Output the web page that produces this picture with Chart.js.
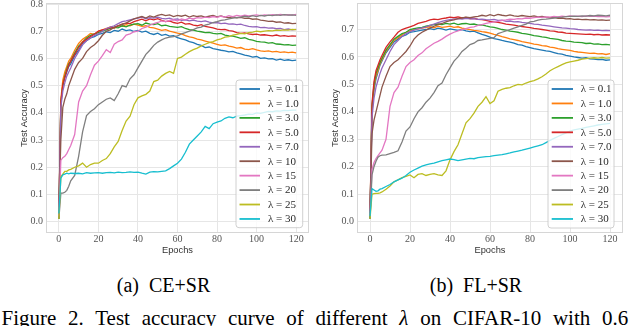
<!DOCTYPE html>
<html><head><meta charset="utf-8">
<script src="https://cdn.jsdelivr.net/npm/chart.js@4.4.1/dist/chart.umd.min.js"></script>
<style>
html,body{margin:0;padding:0;background:#fff;}
#wrap{position:relative;width:640px;height:326px;overflow:hidden;background:#fff;}
canvas{position:absolute;top:0;}
#c1{left:0;} #c2{left:320px;}
.sub{position:absolute;top:273px;font:20px "Liberation Serif",serif;line-height:24px;white-space:pre;color:#000;transform:translateX(-50%);}
#cap{position:absolute;left:1.5px;top:305.6px;font:21px "Liberation Serif",serif;line-height:24px;white-space:nowrap;word-spacing:6.5px;color:#000;}
#probe{position:absolute;left:0;top:0;font:10px "Liberation Serif";color:transparent;}
</style></head><body>
<div id="wrap">
<span id="probe">0.1 λ = 30</span>
<canvas id="c1" width="320" height="256"></canvas>
<canvas id="c2" width="320" height="256"></canvas>
<div class="sub" style="left:163.5px">(a)  CE+SR</div>
<div class="sub" style="left:476px">(b)  FL+SR</div>
<div id="cap">Figure 2. Test accuracy curve of different <i>λ</i> on CIFAR-10 with 0.6</div>
</div>
<script>
const epochs = [0,1,2,3,4,5,6,
  8,10,12,14,16,18,20,22,
  24,26,28,30,32,34,36,38,
  40,42,44,46,48,50,52,54,
  56,58,60,62,64,66,68,70,
  72,74,76,78,80,82,84,86,
  88,90,92,94,96,98,100,102,
  104,106,108,110,112,114,116,118,120];
const lambdas = ['0.1','1.0','3.0','5.0','7.0','10','15','20','25','30'];
const colors = ['#1f77b4','#ff7f0e','#2ca02c','#d62728','#9467bd','#8c564b','#e377c2','#7f7f7f','#bcbd22','#17becf'];
const xTicks = [0,20,40,60,80,100,120];
const yTicks = [0.0,0.1,0.2,0.3,0.4,0.5,0.6,0.7,0.8];

// ---- (a) CE+SR ----
const ce_l0_1 = [0.01,0.44,0.50,0.53,0.55,0.57,0.58,
 0.61,0.63,0.655,0.665,0.675,0.68,0.688,0.692,
 0.698,0.695,0.703,0.700,0.708,0.702,0.705,0.699,
 0.703,0.697,0.700,0.692,0.688,0.693,0.685,0.688,
 0.682,0.684,0.676,0.672,0.668,0.662,0.658,0.652,
 0.648,0.640,0.642,0.636,0.633,0.630,0.628,0.624,
 0.626,0.620,0.617,0.612,0.609,0.605,0.607,0.600,
 0.602,0.598,0.599,0.594,0.597,0.593,0.595,0.592,0.594];
const ce_l1_0 = [0.02,0.45,0.52,0.55,0.57,0.59,0.60,
 0.63,0.655,0.67,0.68,0.692,0.688,0.70,0.705,
 0.71,0.716,0.712,0.72,0.718,0.724,0.72,0.726,
 0.722,0.718,0.72,0.714,0.712,0.708,0.703,0.706,
 0.70,0.697,0.693,0.690,0.684,0.679,0.676,0.671,
 0.668,0.664,0.660,0.656,0.652,0.648,0.650,0.645,
 0.642,0.638,0.640,0.634,0.632,0.636,0.631,0.628,
 0.626,0.628,0.624,0.626,0.622,0.624,0.621,0.623,0.620];
const ce_l3_0 = [0.01,0.43,0.50,0.535,0.56,0.58,0.59,
 0.62,0.645,0.66,0.675,0.685,0.69,0.695,0.70,
 0.705,0.71,0.714,0.712,0.72,0.716,0.722,0.726,
 0.728,0.722,0.73,0.726,0.724,0.728,0.72,0.722,
 0.718,0.716,0.714,0.717,0.71,0.706,0.704,0.70,
 0.698,0.695,0.696,0.692,0.690,0.692,0.686,0.683,
 0.682,0.678,0.674,0.676,0.670,0.667,0.663,0.661,
 0.660,0.656,0.658,0.653,0.652,0.650,0.651,0.648,0.649];
const ce_l5_0 = [0.02,0.44,0.505,0.53,0.555,0.575,0.59,
 0.615,0.64,0.66,0.67,0.68,0.69,0.70,0.705,
 0.708,0.714,0.712,0.72,0.726,0.73,0.728,0.735,
 0.74,0.744,0.738,0.745,0.742,0.746,0.74,0.735,
 0.738,0.732,0.729,0.733,0.726,0.728,0.722,0.72,
 0.724,0.718,0.715,0.712,0.708,0.706,0.707,0.702,
 0.70,0.695,0.692,0.694,0.690,0.688,0.689,0.686,
 0.687,0.685,0.683,0.686,0.682,0.684,0.681,0.683,0.682];
const ce_l7_0 = [0.02,0.42,0.48,0.51,0.535,0.55,0.565,
 0.60,0.625,0.65,0.665,0.675,0.685,0.69,0.70,
 0.71,0.715,0.72,0.728,0.735,0.738,0.742,0.745,
 0.748,0.752,0.746,0.750,0.748,0.752,0.747,0.745,
 0.748,0.743,0.745,0.740,0.742,0.738,0.741,0.737,
 0.735,0.738,0.733,0.731,0.732,0.728,0.730,0.726,
 0.727,0.724,0.726,0.721,0.718,0.716,0.717,0.713,
 0.714,0.711,0.712,0.709,0.710,0.706,0.708,0.705,0.707];
const ce_l10 = [0.03,0.30,0.42,0.45,0.47,0.50,0.52,
 0.56,0.585,0.60,0.625,0.64,0.65,0.665,0.685,
 0.70,0.705,0.715,0.72,0.725,0.73,0.738,0.745,
 0.75,0.754,0.748,0.756,0.752,0.758,0.762,0.757,
 0.760,0.754,0.758,0.755,0.759,0.752,0.757,0.754,
 0.756,0.752,0.755,0.758,0.753,0.756,0.752,0.750,
 0.753,0.749,0.751,0.747,0.748,0.744,0.745,0.741,
 0.739,0.736,0.737,0.733,0.734,0.730,0.731,0.728,0.729];
const ce_l15 = [0.02,0.225,0.235,0.24,0.25,0.265,0.28,
 0.32,0.44,0.48,0.50,0.54,0.575,0.59,0.61,
 0.632,0.622,0.652,0.662,0.668,0.686,0.69,0.698,
 0.70,0.71,0.715,0.722,0.728,0.732,0.738,0.735,
 0.74,0.742,0.738,0.745,0.742,0.748,0.745,0.75,
 0.748,0.752,0.75,0.754,0.751,0.755,0.752,0.757,
 0.754,0.758,0.755,0.759,0.756,0.758,0.76,0.757,
 0.76,0.758,0.761,0.759,0.762,0.76,0.761,0.759,0.762];
const ce_l20 = [0.01,0.105,0.105,0.108,0.115,0.13,0.15,
 0.17,0.24,0.33,0.39,0.405,0.415,0.43,0.44,
 0.45,0.455,0.445,0.47,0.50,0.495,0.525,0.54,
 0.565,0.59,0.615,0.63,0.648,0.66,0.668,0.675,
 0.678,0.68,0.683,0.69,0.695,0.70,0.706,0.712,
 0.715,0.722,0.726,0.732,0.735,0.74,0.742,0.745,
 0.748,0.75,0.752,0.755,0.753,0.757,0.754,0.758,
 0.756,0.759,0.757,0.76,0.758,0.761,0.759,0.76,0.758];
const ce_l25 = [0.01,0.165,0.175,0.185,0.185,0.19,0.192,
 0.20,0.205,0.215,0.20,0.21,0.215,0.215,0.225,
 0.232,0.25,0.275,0.295,0.335,0.37,0.388,0.43,
 0.455,0.462,0.468,0.48,0.515,0.52,0.535,0.545,
 0.552,0.545,0.60,0.605,0.615,0.625,0.632,0.638,
 0.646,0.652,0.658,0.662,0.668,0.672,0.678,0.68,
 0.686,0.688,0.692,0.69,0.695,0.697,0.70,0.698,
 0.70,0.702,0.701,0.704,0.703,0.705,0.704,0.707,0.706];
const ce_l30 = [0.03,0.16,0.172,0.175,0.178,0.176,0.178,
 0.177,0.178,0.176,0.18,0.178,0.179,0.18,0.178,
 0.18,0.181,0.179,0.182,0.18,0.181,0.183,0.181,
 0.182,0.178,0.175,0.182,0.184,0.183,0.185,0.187,
 0.195,0.205,0.215,0.23,0.255,0.285,0.30,0.315,
 0.33,0.35,0.342,0.36,0.366,0.37,0.38,0.385,
 0.382,0.388,0.39,0.392,0.395,0.394,0.40,0.398,
 0.402,0.405,0.404,0.407,0.406,0.409,0.408,0.41,0.41];

// ---- (b) FL+SR ----
const fl_l0_1 = [0.01,0.40,0.48,0.52,0.545,0.57,0.585,
 0.615,0.635,0.655,0.665,0.675,0.68,0.69,0.692,
 0.695,0.698,0.70,0.703,0.70,0.705,0.702,0.698,
 0.702,0.70,0.697,0.70,0.695,0.692,0.694,0.688,
 0.682,0.678,0.672,0.667,0.664,0.66,0.657,0.654,
 0.65,0.645,0.643,0.638,0.634,0.63,0.628,0.625,
 0.622,0.62,0.616,0.612,0.61,0.606,0.603,0.60,
 0.598,0.596,0.597,0.593,0.592,0.59,0.591,0.588,0.589];
const fl_l1_0 = [0.02,0.41,0.49,0.53,0.55,0.575,0.59,
 0.62,0.64,0.66,0.67,0.68,0.69,0.695,0.70,
 0.702,0.705,0.708,0.71,0.706,0.712,0.708,0.71,
 0.712,0.708,0.71,0.705,0.702,0.70,0.697,0.695,
 0.692,0.69,0.687,0.682,0.679,0.674,0.67,0.666,
 0.663,0.66,0.656,0.653,0.65,0.647,0.645,0.641,
 0.64,0.636,0.634,0.63,0.628,0.626,0.624,0.62,
 0.618,0.617,0.615,0.613,0.614,0.611,0.612,0.609,0.612];
const fl_l3_0 = [0.01,0.42,0.50,0.54,0.56,0.58,0.595,
 0.625,0.645,0.665,0.675,0.685,0.69,0.70,0.703,
 0.706,0.708,0.712,0.715,0.718,0.72,0.718,0.722,
 0.72,0.723,0.718,0.721,0.722,0.719,0.72,0.716,
 0.717,0.713,0.71,0.708,0.704,0.70,0.698,0.694,
 0.692,0.69,0.686,0.684,0.681,0.678,0.676,0.673,
 0.671,0.668,0.666,0.664,0.66,0.658,0.657,0.654,
 0.653,0.652,0.649,0.65,0.647,0.648,0.645,0.646,0.644];
const fl_l5_0 = [0.02,0.43,0.51,0.55,0.57,0.59,0.605,
 0.635,0.655,0.672,0.69,0.70,0.705,0.71,0.715,
 0.722,0.726,0.73,0.735,0.738,0.736,0.74,0.742,
 0.745,0.743,0.746,0.742,0.744,0.74,0.741,0.737,
 0.736,0.733,0.73,0.728,0.726,0.723,0.72,0.718,
 0.716,0.713,0.711,0.709,0.707,0.704,0.702,0.70,
 0.698,0.695,0.694,0.691,0.69,0.687,0.686,0.685,
 0.684,0.683,0.682,0.683,0.681,0.682,0.68,0.681,0.68];
const fl_l7_0 = [0.02,0.38,0.45,0.49,0.515,0.54,0.56,
 0.59,0.62,0.645,0.66,0.675,0.685,0.692,0.698,
 0.702,0.706,0.71,0.715,0.72,0.725,0.73,0.733,
 0.736,0.738,0.74,0.738,0.741,0.739,0.74,0.737,
 0.738,0.736,0.735,0.737,0.733,0.734,0.73,0.731,
 0.728,0.729,0.726,0.724,0.722,0.72,0.719,0.716,
 0.714,0.712,0.71,0.708,0.706,0.705,0.703,0.702,
 0.70,0.699,0.698,0.699,0.697,0.698,0.696,0.697,0.696];
const fl_l10 = [0.03,0.32,0.37,0.40,0.43,0.46,0.49,
 0.53,0.565,0.58,0.59,0.605,0.62,0.64,0.665,
 0.68,0.69,0.698,0.705,0.712,0.718,0.722,0.728,
 0.732,0.735,0.74,0.742,0.745,0.743,0.746,0.748,
 0.752,0.749,0.754,0.75,0.755,0.752,0.75,0.753,
 0.75,0.748,0.751,0.749,0.747,0.75,0.746,0.748,
 0.745,0.743,0.744,0.741,0.742,0.739,0.74,0.737,
 0.738,0.736,0.737,0.735,0.736,0.734,0.735,0.733,0.734];
const fl_l15 = [0.02,0.19,0.215,0.23,0.24,0.25,0.26,
 0.30,0.42,0.47,0.49,0.53,0.565,0.58,0.59,
 0.605,0.615,0.63,0.64,0.65,0.657,0.665,0.675,
 0.683,0.69,0.695,0.70,0.703,0.708,0.71,0.715,
 0.718,0.722,0.725,0.728,0.73,0.733,0.735,0.738,
 0.737,0.74,0.739,0.742,0.741,0.743,0.745,0.744,
 0.746,0.745,0.748,0.746,0.749,0.747,0.75,0.748,
 0.749,0.747,0.75,0.748,0.749,0.747,0.748,0.746,0.747];
const fl_l20 = [0.01,0.17,0.20,0.22,0.235,0.24,0.242,
 0.243,0.248,0.252,0.258,0.29,0.33,0.345,0.375,
 0.40,0.415,0.435,0.45,0.47,0.495,0.505,0.535,
 0.56,0.585,0.60,0.62,0.632,0.645,0.65,0.66,
 0.662,0.665,0.668,0.67,0.685,0.69,0.695,0.70,
 0.705,0.71,0.715,0.72,0.728,0.73,0.734,0.737,
 0.738,0.74,0.742,0.744,0.745,0.747,0.748,0.749,
 0.748,0.75,0.749,0.751,0.75,0.752,0.751,0.75,0.752];
const fl_l25 = [0.01,0.10,0.102,0.103,0.103,0.105,0.108,
 0.118,0.13,0.145,0.152,0.16,0.165,0.17,0.16,
 0.172,0.175,0.168,0.172,0.175,0.17,0.168,0.185,
 0.225,0.255,0.28,0.32,0.36,0.375,0.395,0.42,
 0.435,0.455,0.43,0.44,0.475,0.482,0.486,0.488,
 0.495,0.50,0.498,0.505,0.51,0.514,0.52,0.528,
 0.538,0.55,0.558,0.565,0.572,0.578,0.582,0.585,
 0.588,0.592,0.594,0.596,0.597,0.596,0.598,0.596,0.597];
const fl_l30 = [0.02,0.12,0.115,0.11,0.112,0.118,0.12,
 0.128,0.135,0.145,0.152,0.158,0.168,0.18,0.188,
 0.195,0.202,0.207,0.21,0.213,0.218,0.222,0.225,
 0.228,0.226,0.222,0.225,0.228,0.23,0.229,0.233,
 0.235,0.237,0.238,0.24,0.242,0.244,0.247,0.25,
 0.254,0.257,0.26,0.264,0.268,0.272,0.276,0.28,
 0.288,0.296,0.303,0.31,0.317,0.323,0.33,0.334,
 0.337,0.34,0.343,0.346,0.349,0.352,0.354,0.356,0.358];

const ceSeries = [ce_l0_1,ce_l1_0,ce_l3_0,ce_l5_0,ce_l7_0,ce_l10,ce_l15,ce_l20,ce_l25,ce_l30];
const flSeries = [fl_l0_1,fl_l1_0,fl_l3_0,fl_l5_0,fl_l7_0,fl_l10,fl_l15,fl_l20,fl_l25,fl_l30];

const SERIF = "'Liberation Serif', 'Times New Roman', 'DejaVu Serif', serif";
const SANS = "'Liberation Sans', Arial, sans-serif";

const framePlugin = {
  id:'frame',
  afterDatasetsDraw(chart){
    const ctx = chart.ctx, a = chart.chartArea;
    ctx.save();
    ctx.strokeStyle = '#d6d6d6'; ctx.lineWidth = 1;
    ctx.strokeRect(Math.round(a.left)-0.5, Math.round(a.top)-0.5, Math.round(a.right-a.left)+1, Math.round(a.bottom-a.top)+1);
    ctx.restore();
  }
};
const legendPlugin = {
  id:'boxLegend',
  afterDraw(chart, args, o){
    const ctx = chart.ctx, a = chart.chartArea;
    const x0 = a.right - o.dr - o.w, y0 = a.bottom - o.db - o.h;
    ctx.save();
    ctx.beginPath();
    ctx.roundRect(x0, y0, o.w, o.h, 3);
    ctx.fillStyle = 'rgba(255,255,255,0.8)'; ctx.fill();
    ctx.strokeStyle = 'rgba(200,200,200,0.85)'; ctx.lineWidth = 1; ctx.stroke();
    chart.data.datasets.forEach((ds, i) => {
      const y = y0 + o.first + i * o.step;
      ctx.strokeStyle = ds.borderColor; ctx.lineWidth = 1.8;
      ctx.beginPath(); ctx.moveTo(x0 + o.l1, y); ctx.lineTo(x0 + o.l2, y); ctx.stroke();
      ctx.fillStyle = '#2a2a2a'; ctx.font = '11px ' + SERIF;
      ctx.textBaseline = 'middle'; ctx.textAlign = 'left';
      ctx.fillText(ds.label, x0 + o.tx, y + 0.5);
    });
    ctx.restore();
  }
};

function makeChart(id, series, yMax, padLeft, padRight, legendOpts){
  return new Chart(document.getElementById(id), {
    type: 'line',
    data: { datasets: series.map((vals, i) => ({
      label: 'λ = ' + lambdas[i],
      data: vals.map((v, k) => ({x: epochs[k], y: v})),
      borderColor: colors[i], backgroundColor: colors[i],
      borderWidth: 1.3, pointRadius: 0, tension: 0, fill: false,
      order: series.length - i
    }))},
    options: {
      responsive: false, animation: false, devicePixelRatio: 1,
      layout: {padding: {left: padLeft, right: padRight, top: 4, bottom: 0}},
      plugins: {legend: {display: false}, tooltip: {enabled: false}, boxLegend: legendOpts},
      scales: {
        x: {
          type: 'linear', min: -6, max: 126,
          afterBuildTicks: s => { s.ticks = xTicks.map(v => ({value: v})); },
          afterFit: s => { s.height = 24; s.paddingLeft = 0; s.paddingRight = 0; },
          grid: {color: '#e6e6e6', lineWidth: 1, drawTicks: false},
          border: {display: false},
          ticks: {padding: 1, color: '#555', font: {family: SERIF, size: 10}, maxRotation: 0, autoSkip: false, callback: v => String(v)},
          title: {display: true, text: 'Epochs', color: '#333', font: {family: SANS, size: 9.3}, padding: {top: 0, bottom: 0}}
        },
        y: {
          type: 'linear', min: -0.038, max: yMax,
          afterBuildTicks: s => { s.ticks = yTicks.filter(v => v <= yMax + 1e-9).map(v => ({value: v})); },
          afterFit: s => { s.width = 29; s.paddingTop = 0; s.paddingBottom = 0; },
          grid: {color: '#e6e6e6', lineWidth: 1, drawTicks: false},
          border: {display: false},
          ticks: {padding: 4, color: '#555', font: {family: SERIF, size: 10}, callback: v => Number(v).toFixed(1)},
          title: {display: true, text: 'Test Accuracy', color: '#333', font: {family: SANS, size: 9.3}, padding: {top: 0.4, bottom: 0}}
        }
      }
    },
    plugins: [framePlugin, legendPlugin]
  });
}

function drawAll(){
  makeChart('c1', ceSeries, 0.8, 18, 12, {w: 66.7, h: 147.7, dr: 5.3, db: 4.3, first: 9, step: 14.44, l1: 3.5, l2: 24, tx: 32});
  makeChart('c2', flSeries, 0.793, 9, 18, {w: 66, h: 148, dr: 8, db: 4, first: 9, step: 14.44, l1: 3.7, l2: 25, tx: 32.7});
}
let done = false;
function go(){ if (!done) { done = true; drawAll(); } }
if (document.fonts && document.fonts.load) {
  Promise.all([
    document.fonts.load("10px 'Liberation Serif'"),
    document.fonts.load("10px 'Liberation Sans'")
  ]).then(go, go);
  setTimeout(go, 1500);
} else { go(); }
</script>
</body></html>
